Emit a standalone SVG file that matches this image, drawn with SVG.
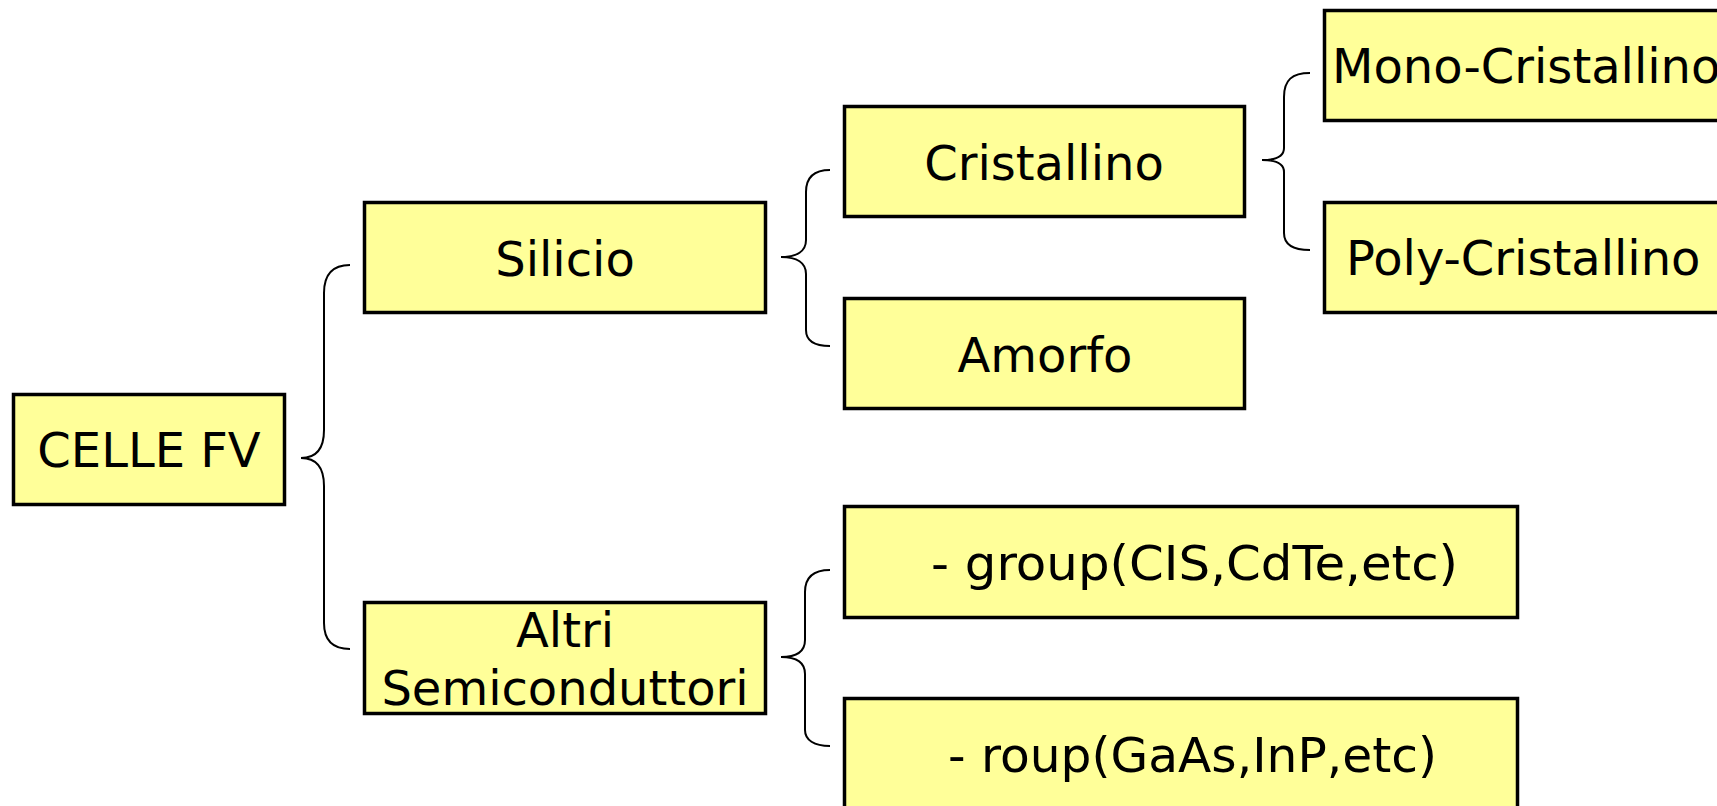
<svg xmlns="http://www.w3.org/2000/svg" width="1717" height="806" viewBox="0 0 1717 806">
<style>
.box{fill:#FFFF99;stroke:#000;stroke-width:3.5}
.t{font-family:"DejaVu Sans","Liberation Sans",sans-serif;font-size:48px;fill:#000}
.c{text-anchor:middle}
.br{fill:none;stroke:#000;stroke-width:2}
</style>
<rect width="1717" height="806" fill="#fff"/>
<g id="connectors">
<path class="br" d="M350,265 C333,265 324,274 324,293 L324,430 C324,450 315,458 301,458 C315,458 324,466 324,486 L324,623 C324,640 333,649 350,649"/>
<path class="br" d="M830,170 C814,170 806,177 806,192 L806,240 C806,251 797,257 781,257 C797,257 806,263 806,274 L806,330 C806,340 814,346 830,346"/>
<path class="br" d="M1310,73 C1292,73 1284,80 1284,97 L1284,148 C1284,156 1276,160 1262,160 C1276,160 1284,164 1284,172 L1284,233 C1284,244 1292,250 1310,250"/>
<path class="br" d="M830,570 C814,570 805,577 805,592 L805,640 C805,651 797,657 781,657 C797,657 805,663 805,674 L805,730 C805,740 814,746 830,746"/>
</g>
<g id="celle">
<rect class="box" x="13.5" y="394.5" width="271" height="110"/>
<text class="t c" x="149" y="467">CELLE FV</text>
</g>
<g id="silicio">
<rect class="box" x="364.5" y="202.5" width="401" height="110"/>
<text class="t c" x="565" y="276">Silicio</text>
</g>
<g id="cristallino">
<rect class="box" x="844.5" y="106.5" width="400" height="110"/>
<text class="t c" x="1044" y="180">Cristallino</text>
</g>
<g id="amorfo">
<rect class="box" x="844.5" y="298.5" width="400" height="110"/>
<text class="t c" x="1045" y="372">Amorfo</text>
</g>
<g id="mono">
<rect class="box" x="1324.5" y="10.5" width="500" height="110"/>
<text class="t" x="1332" y="83">Mono-Cristallino</text>
</g>
<g id="poly">
<rect class="box" x="1324.5" y="202.5" width="500" height="110"/>
<text class="t" x="1346" y="275">Poly-Cristallino</text>
</g>
<g id="altri">
<rect class="box" x="364.5" y="602.5" width="401" height="111"/>
<text class="t c" x="565" y="647">Altri</text>
<text class="t c" x="565" y="705">Semiconduttori</text>
</g>
<g id="group1">
<rect class="box" x="844.5" y="506.5" width="673" height="111"/>
<text class="t" x="931" y="580" textLength="527" lengthAdjust="spacingAndGlyphs">- group(CIS,CdTe,etc)</text>
</g>
<g id="group2">
<rect class="box" x="844.5" y="698.5" width="673" height="200"/>
<text class="t" x="948" y="772" textLength="489" lengthAdjust="spacingAndGlyphs">- roup(GaAs,InP,etc)</text>
</g>
</svg>
